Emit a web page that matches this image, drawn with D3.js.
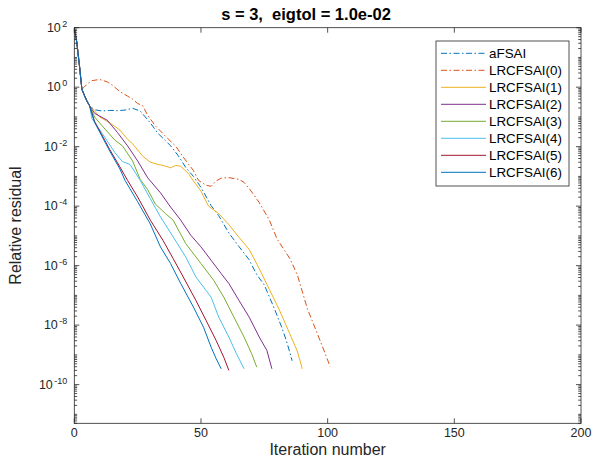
<!DOCTYPE html>
<html>
<head>
<meta charset="utf-8">
<script src="https://cdn.jsdelivr.net/npm/d3@7"></script>
<style>
  body { margin: 0; background: #fff; }
  svg { font-family: "Liberation Sans", Arial, sans-serif; }
  text { white-space: pre; }
</style>
</head>
<body>
<svg id="chart" width="594" height="459"></svg>
<script>
// common start of every run (iterations 0..6, log10 of residual)
const headIter = [0, 1, 2, 3, 4, 5, 6];
const headLog = [2, 1.5, 0.75, -0.07, -0.28, -0.47, -0.62];

const aFSAIIter = [8, 11, 14, 17, 20, 23, 26, 28, 30, 33, 36, 38, 41, 44, 47, 50, 54, 57, 61, 65, 69, 72, 75, 79, 82, 84, 86];
const aFSAILog = [-0.76, -0.8, -0.78, -0.79, -0.77, -0.71, -0.8, -1.0, -1.2, -1.55, -1.8, -1.97, -2.3, -2.7, -3.0, -3.37, -3.98, -4.32, -4.9, -5.36, -5.8, -6.3, -6.65, -7.45, -8.1, -8.6, -9.2];

const lr0Iter = [4, 5, 7, 10, 13, 15, 18, 21, 23, 25, 27, 29, 32, 36, 40, 43, 47, 49, 52, 54, 56, 58, 61, 65, 67, 69, 73, 77, 80, 85, 88, 92, 96, 99, 101];
const lr0Log = [0.01, 0.1, 0.22, 0.26, 0.18, 0.07, -0.15, -0.3, -0.4, -0.55, -0.62, -0.95, -1.3, -1.65, -1.98, -2.35, -2.8, -3.13, -3.3, -3.33, -3.15, -3.06, -3.04, -3.1, -3.2, -3.4, -3.88, -4.47, -5.1, -5.75, -6.3, -7.45, -8.3, -8.95, -9.4];

const lr1Iter = [8, 10, 14, 18, 21, 23, 27, 30, 33, 35, 38, 40, 42, 45, 47, 50, 53, 57, 61, 65, 69, 73, 77, 81, 85, 88, 90];
const lr1Log = [-0.8, -1.0, -1.2, -1.44, -1.75, -1.9, -2.32, -2.52, -2.6, -2.63, -2.71, -2.63, -2.66, -2.9, -3.15, -3.5, -4.0, -4.25, -4.62, -5.05, -5.45, -6.1, -6.8, -7.5, -8.28, -8.87, -9.47];

const lr2Iter = [8, 13, 17, 21, 25, 29, 34, 38, 42, 46, 50, 54, 58, 61, 65, 69, 73, 76, 78];
const lr2Log = [-0.88, -1.11, -1.52, -1.97, -2.48, -3.05, -3.55, -4.03, -4.47, -4.98, -5.37, -5.82, -6.27, -6.6, -7.17, -7.73, -8.4, -8.85, -9.47];

const lr3Iter = [8, 11, 16, 19, 23, 26, 29, 32, 36, 39, 44, 50, 55, 59, 63, 67, 70, 72];
const lr3Log = [-1.0, -1.3, -1.78, -1.97, -2.48, -3.1, -3.45, -3.93, -4.25, -4.47, -5.26, -5.93, -6.49, -7.06, -7.73, -8.4, -8.96, -9.41];

const lr4Iter = [7, 11, 16, 19, 22, 26, 30, 34, 39, 44, 48, 54, 57, 61, 64, 67];
const lr4Log = [-1.06, -1.55, -2.2, -2.5, -2.6, -3.13, -3.75, -4.36, -5.03, -5.71, -6.38, -7.06, -7.73, -8.4, -8.96, -9.47];

const lr5Iter = [8, 14, 18, 21, 25, 30, 35, 39, 43, 48, 52, 56, 59, 61];
const lr5Log = [-1.15, -2.1, -2.68, -3.13, -3.69, -4.47, -5.15, -5.76, -6.38, -7.17, -7.84, -8.52, -9.08, -9.52];

const lr6Iter = [8, 14, 18, 20, 25, 30, 34, 38, 42, 47, 51, 54, 56, 58];
const lr6Log = [-1.18, -2.15, -2.75, -3.13, -3.85, -4.6, -5.37, -5.93, -6.6, -7.39, -8.07, -8.74, -9.13, -9.47];

const seriesNames = ["aFSAI", "LRCFSAI(0)", "LRCFSAI(1)", "LRCFSAI(2)", "LRCFSAI(3)", "LRCFSAI(4)", "LRCFSAI(5)", "LRCFSAI(6)"];
const seriesColors = ["#0072BD", "#D95319", "#EDB120", "#7E2F8E", "#77AC30", "#4DBEEE", "#A2142F", "#0072BD"];
const seriesDashed = [true, true, false, false, false, false, false, false];

const xTicks = [0, 50, 100, 150, 200];
const yTickExps = [2, 0, -2, -4, -6, -8, -10];

function build(iters, logs, headCount) {
    var pts = [];
    for (var i = 0; i < headCount; i++) pts.push([headIter[i], Math.pow(10, headLog[i])]);
    iters.forEach((it, i) => pts.push([it, Math.pow(10, logs[i])]));
    return pts;
}

const seriesData = [
    build(aFSAIIter, aFSAILog, 7),
    build(lr0Iter, lr0Log, 4),
    build(lr1Iter, lr1Log, 7),
    build(lr2Iter, lr2Log, 7),
    build(lr3Iter, lr3Log, 7),
    build(lr4Iter, lr4Log, 7),
    build(lr5Iter, lr5Log, 7),
    build(lr6Iter, lr6Log, 7)
];

const margin = { left: 74.3, right: 13, top: 27.7, bottom: 35.7 };
const W = 594, H = 459;
const axisColor = "#262626";

const svg = d3.select("#chart");

const x = d3.scaleLinear().domain([0, 200]).range([margin.left, W - margin.right]);
const y = d3.scaleLog().domain([5e-12, 1e2]).range([H - margin.bottom, margin.top]);

const x0 = x.range()[0], x1 = x.range()[1];
const yTop = y.range()[1], yBot = y.range()[0];

// lines, clipped to the axes box
svg.append("clipPath").attr("id", "clip")
    .append("rect").attr("x", x0).attr("y", yTop).attr("width", x1 - x0).attr("height", yBot - yTop);

const line = d3.line().x(d => x(d[0])).y(d => y(d[1]));

svg.append("g").attr("clip-path", "url(#clip)")
    .selectAll("path")
    .data(seriesData)
    .join("path")
    .attr("d", line)
    .attr("fill", "none")
    .attr("stroke", (d, i) => seriesColors[i])
    .attr("stroke-width", 1)
    .attr("stroke-dasharray", (d, i) => seriesDashed[i] ? "6,2.5,1.5,2.5" : null);

// axes box and ticks
const ax = svg.append("g").attr("stroke", axisColor).attr("stroke-width", 0.8).attr("fill", "none");
ax.append("rect").attr("x", x0).attr("y", yTop).attr("width", x1 - x0).attr("height", yBot - yTop);

const tickLen = 5, minorLen = 2.8;
xTicks.forEach(t => {
    ax.append("line").attr("x1", x(t)).attr("x2", x(t)).attr("y1", yBot).attr("y2", yBot - tickLen);
    ax.append("line").attr("x1", x(t)).attr("x2", x(t)).attr("y1", yTop).attr("y2", yTop + tickLen);
});

yTickExps.forEach(e => {
    var yy = y(Math.pow(10, e));
    ax.append("line").attr("x1", x0).attr("x2", x0 + tickLen).attr("y1", yy).attr("y2", yy);
    ax.append("line").attr("x1", x1).attr("x2", x1 - tickLen).attr("y1", yy).attr("y2", yy);
});

// minor ticks for every decade
for (var e = -12; e < 2; e++) {
    for (var m = 1; m <= 9; m++) {
        if (m == 1 && e % 2 == 0) continue;
        var v = m * Math.pow(10, e);
        if (v < y.domain()[0] || v > y.domain()[1]) continue;
        var yy = y(v);
        ax.append("line").attr("x1", x0).attr("x2", x0 + minorLen).attr("y1", yy).attr("y2", yy);
        ax.append("line").attr("x1", x1).attr("x2", x1 - minorLen).attr("y1", yy).attr("y2", yy);
    }
}

// tick labels
svg.append("g").selectAll("text")
    .data(xTicks)
    .join("text")
    .attr("x", d => x(d))
    .attr("y", yBot + 14)
    .attr("text-anchor", "middle")
    .attr("font-size", 12.5)
    .attr("fill", axisColor)
    .text(d => d);

const yl = svg.append("g").selectAll("text")
    .data(yTickExps)
    .join("text")
    .attr("x", x0 - 7)
    .attr("y", d => y(Math.pow(10, d)) + 4)
    .attr("text-anchor", "end")
    .attr("font-size", 12.5)
    .attr("fill", axisColor);
yl.append("tspan").text("10");
yl.append("tspan").attr("dy", -5).attr("font-size", 9).attr("dx", 1.5).text(d => d);

// axis titles
svg.append("text")
    .attr("x", (x0 + x1) / 2).attr("y", H - 4)
    .attr("text-anchor", "middle").attr("font-size", 16).attr("fill", axisColor)
    .text("Iteration number");

svg.append("text")
    .attr("transform", `translate(21,${(yTop + yBot) / 2}) rotate(-90)`)
    .attr("text-anchor", "middle").attr("font-size", 16).attr("fill", axisColor)
    .text("Relative residual");

svg.append("text")
    .attr("x", 306).attr("y", 20)
    .attr("text-anchor", "middle").attr("font-size", 16.5).attr("font-weight", "bold").attr("fill", "#000")
    .text("s = 3,  eigtol = 1.0e-02");

// legend
const leg = svg.append("g").attr("transform", "translate(436,41)");
leg.append("rect").attr("width", 133).attr("height", 145)
    .attr("fill", "#fff").attr("stroke", axisColor).attr("stroke-width", 0.8);

const item = leg.selectAll("g.item")
    .data(seriesNames)
    .join("g")
    .attr("class", "item")
    .attr("transform", (d, i) => `translate(0,${12.3 + i * 17})`);

item.append("line")
    .attr("x1", 5).attr("x2", 50)
    .attr("stroke", (d, i) => seriesColors[i])
    .attr("stroke-width", 1)
    .attr("stroke-dasharray", (d, i) => seriesDashed[i] ? "6,2.5,1.5,2.5" : null);

item.append("text")
    .attr("x", 53).attr("y", 4.5)
    .attr("font-size", 13.4).attr("fill", "#000")
    .text(d => d);
</script>
</body>
</html>
